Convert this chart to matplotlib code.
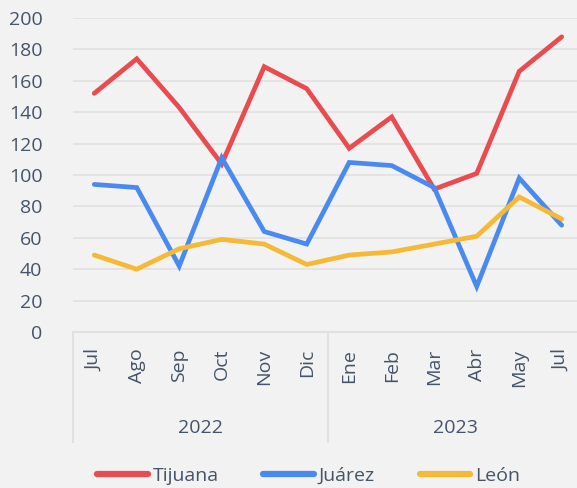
import matplotlib.pyplot as plt
from matplotlib.lines import Line2D

plt.rcParams['font.family'] = ['Open Sans', 'DejaVu Sans']

months = ["Jul", "Ago", "Sep", "Oct", "Nov", "Dic",
          "Ene", "Feb", "Mar", "Abr", "May", "Jul"]
years = ["2022", "2023"]
year_sizes = [6, 6]

tijuana = [152, 174, 143, 107, 169, 155, 117, 137, 91, 101, 166, 188]
juarez = [94, 92, 42, 111, 64, 56, 108, 106, 92, 29, 98, 68]
leon = [49, 40, 53, 59, 56, 43, 49, 51, 56, 61, 86, 72]

series = [("Tijuana", tijuana, "#e94b4f"),
          ("Juárez", juarez, "#4a8af0"),
          ("León", leon, "#f5b935")]

bg = "#f2f2f2"
txt = "#44546a"
grid = "#e1e1e1"
fs = 14

fig = plt.figure(figsize=(5.77, 4.88), dpi=100, facecolor=bg)
ax = fig.add_axes([73/577, 1-332/488, 1-73/577, (332-18)/488])
ax.set_facecolor(bg)

x = list(range(len(months)))
for name, vals, col in series:
    ax.plot(x, vals, color=col, lw=3.4, solid_capstyle='round',
            solid_joinstyle='miter', label=name)

ax.set_ylim(0, 200)
ax.set_xlim(-0.5, 11.36)
ax.set_yticks(range(0, 201, 20))
ax.yaxis.grid(True, color=grid, lw=1.2)
ax.set_axisbelow(True)
for s in ax.spines.values():
    s.set_visible(False)
ax.tick_params(axis='y', length=0, labelsize=fs, labelcolor=txt, pad=22)
ax.set_xticks(x)
ax.set_xticklabels([])
ax.tick_params(axis='x', length=0)

# month labels, year labels and group separators
for i, m in enumerate(months):
    ax.annotate(m, xy=(i, 0), xycoords='data', xytext=(0, -12),
                textcoords='offset points', rotation=90, ha='center',
                va='top', fontsize=fs, color=txt, annotation_clip=False)

ax.axhline(0, color=grid, lw=1.5, clip_on=False)
start = 0
bounds = [-0.5]
for y, n in zip(years, year_sizes):
    ax.annotate(y, xy=(start + (n - 1) / 2, 0), xytext=(0, -69),
                textcoords='offset points', ha='center', va='center',
                fontsize=fs, color=txt, annotation_clip=False)
    start += n
    bounds.append(start - 0.5)
for b in bounds[:-1]:
    ax.plot([b, b], [0, -70], color=grid, lw=1.5, clip_on=False)

handles = [Line2D([], [], color=c, lw=4.5, solid_capstyle='round') for _, _, c in series]
fig.legend(handles, [s[0] for s in series], loc='center', bbox_to_anchor=(0.535, 1-476/488),
           ncol=3, frameon=False, fontsize=fs, labelcolor=txt, handlelength=2.6,
           handletextpad=0.25, columnspacing=2.3)

fig.savefig("out.png", dpi=100, facecolor=bg)
